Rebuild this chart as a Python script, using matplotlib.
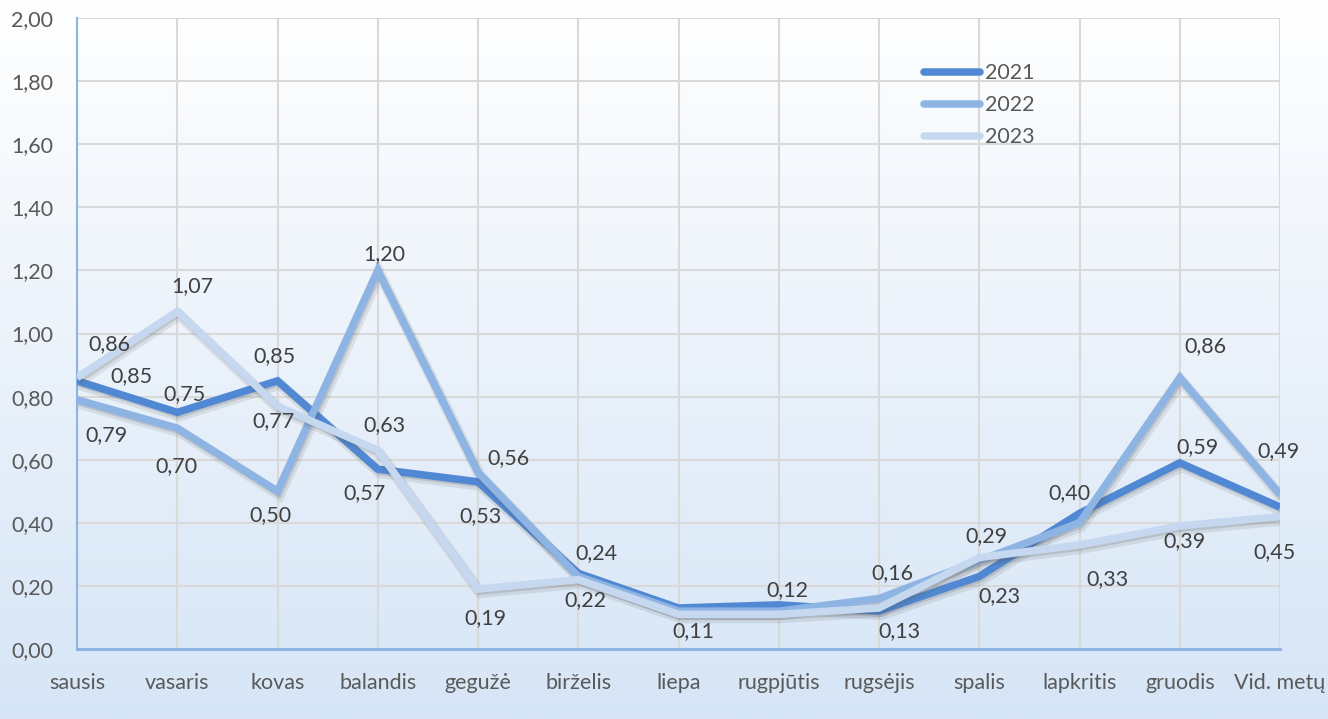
import numpy as np
import matplotlib
matplotlib.use("Agg")
import matplotlib.pyplot as plt
import matplotlib.patheffects as pe
from matplotlib.lines import Line2D

months = ["sausis", "vasaris", "kovas", "balandis", "gegužė", "birželis", "liepa",
          "rugpjūtis", "rugsėjis", "spalis", "lapkritis", "gruodis", "Vid. metų"]
v2021 = [0.85, 0.75, 0.85, 0.57, 0.53, 0.24, 0.13, 0.14, 0.12, 0.23, 0.43, 0.59, 0.45]
v2022 = [0.79, 0.70, 0.50, 1.20, 0.56, 0.23, 0.12, 0.12, 0.16, 0.28, 0.40, 0.86, 0.49]
v2023 = [0.86, 1.07, 0.77, 0.63, 0.19, 0.22, 0.11, 0.11, 0.13, 0.29, 0.33, 0.39, 0.42]
yticks = [0.0, 0.2, 0.4, 0.6, 0.8, 1.0, 1.2, 1.4, 1.6, 1.8, 2.0]

series = {"2021": v2021, "2022": v2022, "2023": v2023}
colors = {"2021": "#5088d3", "2022": "#8db4e3", "2023": "#c6d8f0"}

# data labels shown: (series, month index, dx px, dy px (down positive))
labels = [
    ("2023", 0, 32, -34), ("2021", 0, 54, -5), ("2022", 0, 30, 35),
    ("2023", 1, 15, -25), ("2021", 1, 7, -18), ("2022", 1, -1, 38),
    ("2021", 2, -3, -25), ("2023", 2, -4, 15), ("2022", 2, -7, 24),
    ("2022", 3, 7, -16), ("2023", 3, 7, -25), ("2021", 3, -13, 24),
    ("2022", 4, 30, -14), ("2021", 4, 2, 34), ("2023", 4, 7, 29),
    ("2021", 5, 18, -20), ("2023", 5, 7, 21),
    ("2023", 6, 15, 17),
    ("2022", 7, 9, -21),
    ("2022", 8, 13, -25), ("2023", 8, 20, 23),
    ("2023", 9, 7, -21), ("2021", 9, 20, 20),
    ("2022", 10, -10, -30), ("2023", 10, 28, 34),
    ("2022", 11, 26, -32), ("2021", 11, 18, -16), ("2023", 11, 5, 15),
    ("2022", 12, -2, -43), ("2021", 12, -5, 45),
]

W, H = 1328, 719
fig = plt.figure(figsize=(W / 100, H / 100), dpi=100)
fig.patch.set_facecolor("white")

# gradient background
bg = fig.add_axes([0, 0, 1, 1], zorder=-10)
top = np.array([1.0, 1.0, 1.0])
bot = np.array([0xd6, 0xe5, 0xf6]) / 255.0
t = np.linspace(0, 1, 256)[:, None]
grad = top * (1 - t) + bot * t
bg.imshow(grad[:, None, :].repeat(2, axis=1), aspect="auto", extent=[0, 1, 0, 1])
bg.axis("off")

ax = fig.add_axes([77 / W, 1 - 649 / H, (1280 - 77) / W, (649 - 18) / H])
ax.patch.set_alpha(0)
x = np.arange(len(months))

for name, vals in series.items():
    ax.plot(x, vals, color=colors[name], lw=5.4, solid_joinstyle="miter",
            solid_capstyle="butt", zorder=3,
            path_effects=[pe.SimpleLineShadow(offset=(1.5, -2.5), shadow_color="#505050",
                                              alpha=0.12, linewidth=8),
                          pe.SimpleLineShadow(offset=(1.0, -1.5), shadow_color="#505050",
                                              alpha=0.18),
                          pe.Normal()])

for name, i, dx, dy in labels:
    ax.annotate(f"{series[name][i]:.2f}".replace(".", ","), (x[i], series[name][i]),
                xytext=(dx, -dy), textcoords="offset pixels", ha="center", va="center",
                fontsize=15.5, color="#404040", family="Lato", zorder=5,
                annotation_clip=False)

ax.set_xlim(0, len(months) - 1)
ax.set_ylim(0, 2.0)
ax.set_yticks(yticks)
ax.set_yticklabels([f"{v:.2f}".replace(".", ",") for v in yticks])
ax.set_xticks(x)
ax.set_xticklabels(months)
ax.tick_params(axis="both", length=0, labelsize=15.5, labelcolor="#595959")
ax.tick_params(axis="x", pad=17)
ax.tick_params(axis="y", pad=17)
for lab in ax.get_xticklabels() + ax.get_yticklabels():
    lab.set_family("Lato")
ax.grid(True, color="#d9d9d9", lw=1.5, zorder=0)
ax.set_axisbelow(True)
for s in ["top", "right"]:
    ax.spines[s].set_visible(False)
ax.spines["left"].set_color("#8db4e3")
ax.spines["left"].set_linewidth(1.5)
ax.spines["bottom"].set_color("#8db4e3")
ax.spines["bottom"].set_linewidth(2.2)

handles = [Line2D([0], [0], color=colors[n], lw=5.4, solid_capstyle="round") for n in series]
leg = ax.legend(handles, list(series.keys()), loc="upper left",
                bbox_to_anchor=((905 - 77) / (1280 - 77), 1 - (44 - 18) / (649 - 18)),
                frameon=False, handlelength=2.6, handletextpad=0.2, labelspacing=0.55,
                prop={"family": "Lato", "size": 15.5})
for txt in leg.get_texts():
    txt.set_color("#595959")

fig.savefig("out.png", dpi=100)
